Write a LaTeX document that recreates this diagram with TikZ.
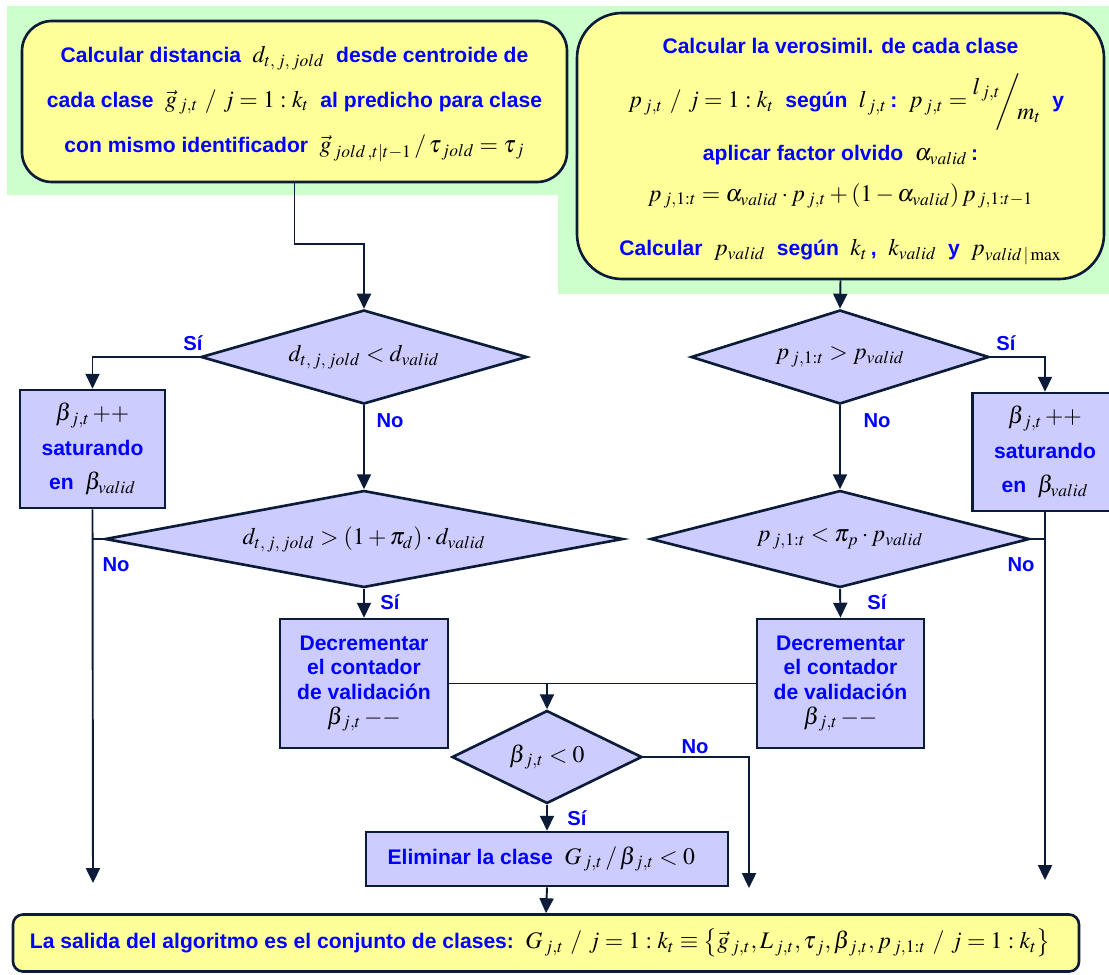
\documentclass[tikz,border=0pt]{standalone}
\usepackage{mathptmx}
\usepackage{fontspec}
\setmainfont{Liberation Serif}
\setsansfont{Liberation Sans}
\usetikzlibrary{shapes.geometric,arrows.meta}

\definecolor{fondo}{HTML}{CCFFCC}
\definecolor{amarillo}{HTML}{FFFF99}
\definecolor{lila}{HTML}{CCCCFF}
\definecolor{borde}{HTML}{0C1C38}
\definecolor{azul}{HTML}{0000FF}

% math in black, a bit larger than the text
\newcommand{\mt}[1]{{\color{black}\fontsize{13.5}{15}\selectfont$#1$}}
% same, padded when it sits inside a line of text
\newcommand{\mx}[1]{\hspace{6.5pt}\mt{#1}\hspace{6.5pt}}

\tikzset{
	caja/.style={draw=borde, line width=1.5pt, fill=lila, align=center, inner sep=1pt, text=azul,
		font=\fontsize{12}{14}\selectfont\sffamily\bfseries},
	redonda/.style={caja, fill=amarillo, rounded corners=0.6cm},
	decision/.style={diamond, draw=borde, line width=1.5pt, fill=lila, inner sep=0pt},
	etiq/.style={font=\fontsize{11.5}{13}\selectfont\sffamily\bfseries, text=azul, inner sep=0pt},
	flecha/.style={-{Triangle[length=8.5pt,width=8pt]}, line width=1.1pt, draw=borde},
	linea/.style={line width=1.1pt, draw=borde},
}

\begin{document}
\begin{tikzpicture}[x=0.2mm,y=-0.2mm]
	\useasboundingbox (0,0) rectangle (1109,974);
	%background
		\fill[fondo] (7,6) -- (1109,6) -- (1109,294) -- (558,294) -- (558,195) -- (7,195) -- cycle;
	%top boxes
		\node[redonda, minimum width=10.9cm, minimum height=3.22cm, font=\fontsize{12}{25.6}\selectfont\sffamily\bfseries] (dist) at (294.5,101.5)
			{\rule{0pt}{12pt}Calcular distancia\mx{d_{t,\,j,\,jold}}desde centroide de\\
			cada clase\mx{\vec{g}_{\,j,t}\ /\ j=1:k_t}al predicho para clase\\
			con mismo identificador\mx{\vec{g}_{\,jold\,,t|t-1}\,/\,\tau_{\,jold}=\tau_{\,j}}};
		\node[redonda, rounded corners=0.9cm, minimum width=10.54cm, minimum height=5.32cm, font=\fontsize{12}{28}\selectfont\sffamily\bfseries] (veros) at (840.5,146)
			{\rule{0pt}{15pt}Calcular la verosimil. de cada clase\\[3pt]
			\mx{p_{\,j,t}\ /\ j=1:k_t}según\hspace{6.5pt}\mt{l_{\,j,t}}\,:\mx{p_{\,j,t}=\raisebox{1.1ex}{$l_{\,j,t}$}\!\!\bigg/\!\raisebox{-0.9ex}{$m_t$}}y\\[2pt]
			aplicar factor olvido\hspace{6.5pt}\mt{\alpha_{valid}}\,:\\[-5pt]
			\mt{p_{\,j,1{:}t}=\alpha_{valid}\cdot p_{\,j,t}+(1-\alpha_{valid})\,p_{\,j,1{:}t-1}}\\[3pt]
			Calcular\mx{p_{valid}}según\hspace{6.5pt}\mt{k_t}\,,\mx{k_{valid}}y\mx{p_{valid\,|\max}}};
	%decisions
		\node[decision, aspect=3.47, minimum width=6.52cm, minimum height=1.88cm] (d1) at (364,357) {\mt{d_{t,\,j,\,jold}<d_{valid}}};
		\node[decision, aspect=3.17, minimum width=5.96cm, minimum height=1.88cm] (d3) at (840,357) {\mt{p_{\,j,1{:}t}>p_{valid}}};
		\node[decision, aspect=5.34, minimum width=10.36cm, minimum height=1.94cm] (d2) at (364,539) {\mt{d_{t,\,j,\,jold}>(1+\pi_d)\cdot d_{valid}}};
		\node[decision, aspect=3.9, minimum width=7.58cm, minimum height=1.94cm] (d4) at (840,539) {\mt{p_{\,j,1{:}t}<\pi_p\cdot p_{valid}}};
		\node[decision, aspect=2.04, minimum width=3.8cm, minimum height=1.86cm] (d5) at (547,757) {\mt{\beta_{\,j,t}<0}};
	%process boxes
		\node[caja, minimum width=2.9cm, minimum height=2.36cm, font=\fontsize{12}{19.5}\selectfont\sffamily\bfseries] (incL) at (92.5,449)
			{\mt{\beta_{\,j,t}\,{+}{+}}\\ saturando\\ en\mx{\beta_{valid}}};
		\node[caja, minimum width=2.9cm, minimum height=2.36cm, font=\fontsize{12}{19.5}\selectfont\sffamily\bfseries] (incR) at (1045,452)
			{\mt{\beta_{\,j,t}\,{+}{+}}\\ saturando\\ en\mx{\beta_{valid}}};
		\node[caja, minimum width=3.36cm, minimum height=2.58cm] (decL) at (364,683.5)
			{Decrementar\\ el contador\\ de validación\\ \mt{\beta_{\,j,t}\,{-}{-}}};
		\node[caja, minimum width=3.34cm, minimum height=2.58cm] (decR) at (840.5,683.5)
			{Decrementar\\ el contador\\ de validación\\ \mt{\beta_{\,j,t}\,{-}{-}}};
		\node[caja, minimum width=7.24cm, minimum height=1.08cm] (elim) at (547,859)
			{Eliminar la clase\mx{G_{\,j,t}\,/\,\beta_{\,j,t}<0}};
		\node[redonda, rounded corners=0.2cm, minimum width=21.32cm, minimum height=1.14cm] (out) at (546,943)
			{La salida del algoritmo es el conjunto de clases:\mx{G_{\,j,t}\ /\ j=1:k_t\equiv\left\{\vec{g}_{\,j,t},L_{\,j,t},\tau_{\,j},\beta_{\,j,t},p_{\,j,1{:}t}\ /\ j=1:k_t\right\}}};
	%loose ends
		\coordinate (endL) at (93,883);
		\coordinate (endM) at (749,888);
		\coordinate (endR) at (1045,880);
		\coordinate (join) at (547,683.5);
	%connectors
		\draw[flecha] (dist.south) -- ++(0,61) -| (d1.north);
		\draw[flecha] (veros.south) -- (d3.north);
		\draw[flecha] (d1.west) -| (incL.north);
		\draw[flecha] (d1.south) -- (d2.north);
		\draw[flecha] (d3.east) -| (incR.north);
		\draw[flecha] (d3.south) -- (d4.north);
		\draw[flecha] (incL.south) -- (endL);
		\draw[linea] (d2.west) -- (d2.west -| incL.south);
		\draw[flecha] (incR.south) -- (endR);
		\draw[linea] (d4.east) -- (d4.east -| incR.south);
		\draw[flecha] (d2.south) -- (decL.north);
		\draw[flecha] (d4.south) -- (decR.north);
		\draw[linea] (decL.east) -- (decR.west);
		\draw[flecha] (join) -- (d5.north);
		\draw[flecha] (d5.east) -| (endM);
		\draw[flecha] (d5.south) -- (elim.north);
		\draw[flecha] (elim.south) -- (out.north);
	%labels
		\node[etiq] (si1) at (193,343) {Sí};
		\node[etiq] (no1) at (390,421) {No};
		\node[etiq] (si3) at (1006,343) {Sí};
		\node[etiq] (no3) at (877,421) {No};
		\node[etiq] (no2) at (116,565) {No};
		\node[etiq] (no4) at (1021,565) {No};
		\node[etiq] (si2) at (390,602) {Sí};
		\node[etiq] (si4) at (877,602) {Sí};
		\node[etiq] (no5) at (695,747) {No};
		\node[etiq] (si5) at (577,818) {Sí};
\end{tikzpicture}
\end{document}
